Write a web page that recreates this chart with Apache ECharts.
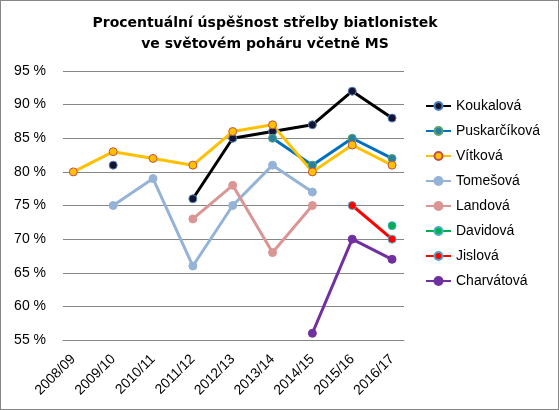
<!DOCTYPE html>
<html>
<head>
<meta charset="utf-8">
<script src="https://cdn.jsdelivr.net/npm/echarts@6/dist/echarts.min.js"></script>
<style>
  html, body { margin: 0; padding: 0; background: #fff; }
  #chart { width: 559px; height: 410px; box-sizing: border-box; border: 1px solid #868686; }
</style>
</head>
<body>
<div id="chart"></div>
<script>
// seasons on the x axis
var seasons = ["2008/09", "2009/10", "2010/11", "2011/12", "2012/13", "2013/14", "2014/15", "2015/16", "2016/17"];

// shooting percentage per season (null = no data)
var koukalova    = [null, 81, null, 76, 85, 86, 87, 92, 88];
var puskarcikova = [null, null, null, null, null, 85, 81, 85, 82];
var vitkova      = [80, 83, 82, 81, 86, 87, 80, 84, 81];
var tomesova     = [null, 75, 79, 66, 75, 81, 77, null, null];
var landova      = [null, null, null, 73, 78, 68, 75, null, null];
var davidova     = [null, null, null, null, null, null, null, null, 72];
var jislova      = [null, null, null, null, null, null, null, 75, 70];
var charvatova   = [null, null, null, null, null, null, 56, 70, 67];

var yTicks = [55, 60, 65, 70, 75, 80, 85, 90, 95];

var font = "Liberation Sans";

function pairs(arr) {
  return arr.map(function (v, i) { return [i, v]; });
}

function line(name, values, lineColor, fill, border) {
  return {
    name: name,
    type: "line",
    data: pairs(values),
    connectNulls: false,
    symbol: "circle",
    symbolSize: 8,
    showSymbol: true,
    lineStyle: { width: 3, color: lineColor },
    itemStyle: { color: fill, borderColor: border, borderWidth: 1 },
    emphasis: { disabled: true },
  };
}

var chart = echarts.init(document.getElementById("chart"));
var option = {
  animation: false,
  title: {
    text: "Procentuální úspěšnost střelby biatlonistek\nve světovém poháru včetně MS",
    left: 259,
    top: 7,
    textAlign: "center",
    textStyle: {
      fontFamily: "DejaVu Sans",
      fontWeight: "bold",
      fontSize: 14,
      lineHeight: 21,
      color: "#000",
    },
  },
  legend: {
    orient: "vertical",
    left: 424,
    top: 98,
    padding: 0,
    itemWidth: 25,
    itemHeight: 10,
    itemGap: 11,
    textStyle: { fontFamily: font, fontSize: 14, color: "#000" },
    data: ["Koukalová", "Puskarčíková", "Vítková", "Tomešová", "Landová", "Davidová", "Jislová", "Charvátová"],
  },
  grid: { left: 62, right: 154, top: 70, bottom: 69 },
  xAxis: {
    type: "value",
    min: -0.26,
    max: 8.3,
    splitLine: { show: false },
    axisTick: { show: false },
    axisLine: { show: true, lineStyle: { color: "#868686", width: 1 } },
    axisLabel: {
      customValues: seasons.map(function (s, i) { return i; }),
      formatter: function (v) { return seasons[Math.round(v)]; },
      rotate: 45,
      margin: 17,
      fontFamily: font,
      fontSize: 14,
      color: "#000",
    },
  },
  yAxis: {
    type: "value",
    min: yTicks[0],
    max: yTicks[yTicks.length - 1],
    interval: 5,
    axisLine: { show: false },
    axisTick: { show: false },
    splitLine: { lineStyle: { color: "#868686", width: 1 } },
    axisLabel: {
      formatter: function (v) { return v + " %"; },
      margin: 17,
      fontFamily: font,
      fontSize: 14,
      color: "#000",
    },
  },
  series: [
    line("Koukalová", koukalova, "#000000", "#14142e", "#4f81bd"),
    line("Puskarčíková", puskarcikova, "#0070C0", "#2a7f9e", "#5aa36f"),
    line("Vítková", vitkova, "#FFC000", "#FFC000", "#C0504D"),
    line("Tomešová", tomesova, "#95B3D7", "#95B3D7", "#95B3D7"),
    line("Landová", landova, "#D99694", "#D99694", "#D99694"),
    line("Davidová", davidova, "#00B050", "#00B050", "#4bacc6"),
    line("Jislová", jislova, "#FF0000", "#FF0000", "#4bacc6"),
    line("Charvátová", charvatova, "#7030A0", "#7030A0", "#7030A0"),
  ],
};
chart.setOption(option);
</script>
</body>
</html>
